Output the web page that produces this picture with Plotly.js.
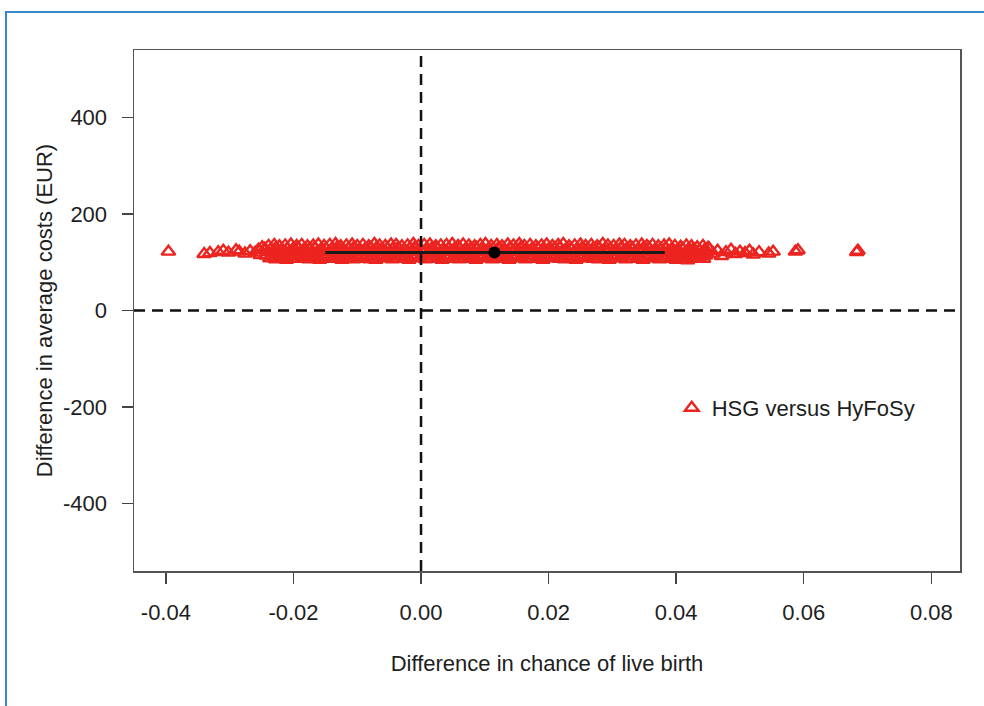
<!DOCTYPE html>
<html>
<head>
<meta charset="utf-8">
<script src="https://cdn.plot.ly/plotly-3.0.1.min.js"></script>
<style>
  html, body { margin: 0; padding: 0; background: #ffffff; }
  #wrap { position: relative; width: 984px; height: 706px; overflow: hidden; }
  #frame { position: absolute; left: 5px; top: 11px; width: 1200px; height: 900px;
           border-left: 2px solid #3b86c6; border-top: 2px solid #3b86c6; }
  #chart { position: absolute; left: 0; top: 0; width: 984px; height: 706px; }
</style>
</head>
<body>
<div id="wrap">
  <div id="frame"></div>
  <div id="chart"></div>
</div>
<script>
// ---- Data ----
// Replicates: difference in chance of live birth (x) vs difference in average costs (y)
const rowTopX = [-0.0239,-0.0230,-0.0222,-0.0213,-0.0204,-0.0195,-0.0187,-0.0178,-0.0169,-0.0161,
  -0.0152,-0.0143,-0.0134,-0.0126,-0.0117,-0.0108,-0.0100,-0.0091,-0.0082,-0.0073,
  -0.0065,-0.0056,-0.0047,-0.0039,-0.0030,-0.0021,-0.0012,-0.0004,0.0005,0.0014,
  0.0023,0.0031,0.0040,0.0049,0.0058,0.0066,0.0075,0.0084,0.0093,0.0101,
  0.0110,0.0119,0.0127,0.0136,0.0145,0.0154,0.0162,0.0171,0.0180,0.0189,
  0.0197,0.0206,0.0215,0.0223,0.0232,0.0241,0.0250,0.0258,0.0267,0.0276,
  0.0285,0.0293,0.0302,0.0311,0.0319,0.0328,0.0337,0.0346,0.0354,0.0363,
  0.0372,0.0381,0.0389,0.0398,0.0407,0.0416,0.0424,0.0433,0.0442,0.0450];
const rowTopY = [134,136,133,135,137,134,136,133,135,137,
  134,136,138,133,135,137,134,136,133,138,
  135,134,137,136,133,135,138,134,136,137,
  133,135,136,138,134,137,135,133,136,138,
  134,136,133,137,135,138,134,136,133,135,
  137,134,136,138,133,135,137,134,136,133,
  138,135,134,137,136,133,135,137,134,136,
  133,135,137,134,132,135,133,131,134,130];
const rowUpperX = [-0.0245,-0.0236,-0.0228,-0.0219,-0.0210,-0.0201,-0.0193,-0.0184,-0.0175,-0.0167,
  -0.0158,-0.0149,-0.0140,-0.0132,-0.0123,-0.0114,-0.0106,-0.0097,-0.0088,-0.0079,
  -0.0071,-0.0062,-0.0053,-0.0045,-0.0036,-0.0027,-0.0018,-0.0010,-0.0001,0.0008,
  0.0017,0.0025,0.0034,0.0043,0.0052,0.0060,0.0069,0.0078,0.0087,0.0095,
  0.0104,0.0113,0.0121,0.0130,0.0139,0.0148,0.0156,0.0165,0.0174,0.0183,
  0.0191,0.0200,0.0209,0.0217,0.0226,0.0235,0.0244,0.0252,0.0261,0.0270,
  0.0279,0.0287,0.0296,0.0305,0.0313,0.0322,0.0331,0.0340,0.0348,0.0357,
  0.0366,0.0375,0.0383,0.0392,0.0401,0.0410,0.0418,0.0427,0.0436,0.0444];
const rowUpperY = [128,126,129,125,128,127,130,126,128,129,
  125,128,127,130,126,128,129,125,127,130,
  128,126,129,127,130,125,128,130,127,126,
  129,130,125,128,127,129,126,129,130,127,
  125,128,129,126,129,127,130,125,128,129,
  126,127,129,130,125,128,126,129,127,129,
  130,126,128,125,129,127,129,126,128,130,
  125,127,129,126,124,128,125,127,124,125];
const rowMiddleX = [-0.0241,-0.0232,-0.0224,-0.0215,-0.0206,-0.0197,-0.0189,-0.0180,-0.0171,-0.0163,
  -0.0154,-0.0145,-0.0136,-0.0128,-0.0119,-0.0110,-0.0102,-0.0093,-0.0084,-0.0075,
  -0.0067,-0.0058,-0.0049,-0.0041,-0.0032,-0.0023,-0.0014,-0.0006,0.0003,0.0012,
  0.0021,0.0029,0.0038,0.0047,0.0056,0.0064,0.0073,0.0082,0.0091,0.0099,
  0.0108,0.0117,0.0125,0.0134,0.0143,0.0152,0.0160,0.0169,0.0178,0.0187,
  0.0195,0.0204,0.0213,0.0221,0.0230,0.0239,0.0248,0.0256,0.0265,0.0274,
  0.0283,0.0291,0.0300,0.0309,0.0317,0.0326,0.0335,0.0344,0.0352,0.0361,
  0.0370,0.0379,0.0387,0.0396,0.0405,0.0414,0.0422,0.0431,0.0440,0.0448];
const rowMiddleY = [121,119,122,118,121,120,122,119,121,118,
  122,120,122,119,121,118,121,122,120,119,
  121,122,118,120,121,119,122,121,118,120,
  122,119,121,122,118,120,122,119,121,122,
  118,121,120,119,121,122,118,120,121,119,
  121,122,120,118,121,119,121,122,120,118,
  121,119,121,122,118,120,121,119,121,122,
  118,120,121,119,121,117,120,121,118,121];
const rowLowerX = [-0.0243,-0.0234,-0.0226,-0.0217,-0.0208,-0.0199,-0.0191,-0.0182,-0.0173,-0.0165,
  -0.0156,-0.0147,-0.0138,-0.0130,-0.0121,-0.0112,-0.0104,-0.0095,-0.0086,-0.0077,
  -0.0069,-0.0060,-0.0051,-0.0043,-0.0034,-0.0025,-0.0016,-0.0008,0.0001,0.0010,
  0.0019,0.0027,0.0036,0.0045,0.0054,0.0062,0.0071,0.0080,0.0089,0.0097,
  0.0106,0.0115,0.0123,0.0132,0.0141,0.0150,0.0158,0.0167,0.0176,0.0185,
  0.0193,0.0202,0.0211,0.0219,0.0228,0.0237,0.0246,0.0254,0.0263,0.0272,
  0.0281,0.0289,0.0298,0.0307,0.0315,0.0324,0.0333,0.0342,0.0350,0.0359,
  0.0368,0.0377,0.0385,0.0394,0.0403,0.0412,0.0420,0.0429,0.0438,0.0446];
const rowLowerY = [114,112,115,111,114,113,115,112,114,111,
  115,113,115,111,114,112,114,115,113,111,
  114,115,112,113,114,111,115,114,112,113,
  115,111,114,114,112,113,115,111,114,115,
  112,114,113,111,114,115,112,113,114,111,
  114,115,113,112,114,111,114,115,113,112,
  114,111,114,115,112,113,114,111,114,115,
  112,113,114,111,114,110,113,114,112,114];
const rowBottomX = [-0.0237,-0.0228,-0.0220,-0.0211,-0.0202,-0.0193,-0.0185,-0.0176,-0.0167,-0.0159,
  -0.0150,-0.0141,-0.0132,-0.0124,-0.0115,-0.0106,-0.0098,-0.0089,-0.0080,-0.0071,
  -0.0063,-0.0054,-0.0045,-0.0037,-0.0028,-0.0019,-0.0010,-0.0002,0.0007,0.0016,
  0.0025,0.0033,0.0042,0.0051,0.0060,0.0068,0.0077,0.0086,0.0095,0.0103,
  0.0112,0.0121,0.0129,0.0138,0.0147,0.0156,0.0164,0.0173,0.0182,0.0191,
  0.0199,0.0208,0.0217,0.0225,0.0234,0.0243,0.0252,0.0260,0.0269,0.0278,
  0.0287,0.0295,0.0304,0.0313,0.0321,0.0330,0.0339,0.0348,0.0356,0.0365,
  0.0374,0.0383,0.0391,0.0400,0.0409,0.0418,0.0426,0.0435,0.0443];
const rowBottomY = [108,106,109,105,108,107,109,106,108,105,
  109,107,108,105,108,106,109,107,106,105,
  108,109,106,107,108,105,109,108,106,107,
  109,105,108,107,106,107,109,105,108,109,
  106,108,107,105,108,109,106,107,108,105,
  108,109,107,106,108,105,108,109,107,106,
  108,105,108,109,106,107,108,105,108,109,
  106,107,108,105,108,104,107,108,107];
const tailLeftX = [-0.0396,-0.0340,-0.0331,-0.0318,-0.0310,-0.0302,-0.0290,-0.0285,-0.0276,-0.0268,-0.0260,-0.0255,-0.0252,-0.0249];
const tailLeftY = [122,117,119,121,124,120,125,122,118,123,120,126,115,131];
const tailRightX = [0.0452,0.0458,0.0465,0.0471,0.0478,0.0486,0.0493,0.0500,0.0508,0.0515,0.0521,0.0530,0.0545,0.0552,0.0587,0.0591,0.0683,0.0685];
const tailRightY = [128,118,124,113,121,126,117,122,119,124,116,121,118,122,122,125,121,124];

// Mean and interval of difference in chance of live birth
const meanEffect = 0.0115;
const meanCost = 120;
const ciEffect = [-0.0150, 0.0382];

const xTickVals = [-0.04, -0.02, 0.00, 0.02, 0.04, 0.06, 0.08];
const xTickText = ["-0.04", "-0.02", "0.00", "0.02", "0.04", "0.06", "0.08"];
const yTickVals = [-400, -200, 0, 200, 400];
const yTickText = ["-400", "-200", "0", "200", "400"];

const seriesName = "HSG versus HyFoSy";
const xTitle = "Difference in chance of live birth";
const yTitle = "Difference in average costs (EUR)";

// ---- Build traces ----
const simX = [].concat(tailLeftX, rowTopX, rowUpperX, rowMiddleX, rowLowerX, rowBottomX, tailRightX);
const simY = [].concat(tailLeftY, rowTopY, rowUpperY, rowMiddleY, rowLowerY, rowBottomY, tailRightY);

const red = "rgb(236,36,32)";
const FONT = "Liberation Sans, Arial, Helvetica, sans-serif";
const TXT = "#1e1e1e";

const traces = [
  {
    type: "scatter", mode: "markers", name: seriesName,
    x: simX, y: simY,
    marker: { symbol: "triangle-up-open", size: 12, color: red, line: { width: 2.4, color: red } },
    showlegend: true, hoverinfo: "skip"
  },
  {
    type: "scatter", mode: "lines",
    x: ciEffect, y: [meanCost, meanCost],
    line: { color: "#1a1a1a", width: 3 },
    showlegend: false, hoverinfo: "skip"
  },
  {
    type: "scatter", mode: "markers",
    x: [meanEffect], y: [meanCost],
    marker: { symbol: "circle", size: 12, color: "#000000" },
    showlegend: false, hoverinfo: "skip"
  }
];

const layout = {
  width: 984, height: 706,
  paper_bgcolor: "rgba(0,0,0,0)", plot_bgcolor: "rgba(0,0,0,0)",
  margin: { l: 134, r: 24, t: 50, b: 135 },
  font: { family: FONT, size: 22, color: TXT },
  showlegend: true,
  legend: {
    x: 0.651, y: 0.313, xanchor: "left", yanchor: "middle",
    bgcolor: "rgba(0,0,0,0)", borderwidth: 0,
    font: { family: FONT, size: 22, color: TXT }
  },
  xaxis: {
    range: [-0.045, 0.0845], tickmode: "array", tickvals: xTickVals, ticktext: xTickText,
    ticks: "outside", ticklen: 11, tickwidth: 1.5, tickcolor: "#444",
    showline: true, mirror: true, linecolor: "#555", linewidth: 1.5,
    showgrid: false, zeroline: false, ticklabelstandoff: 10,
    tickfont: { family: FONT, size: 22, color: TXT },
    title: { text: xTitle, font: { family: FONT, size: 22, color: TXT }, standoff: 31 }
  },
  yaxis: {
    range: [-540, 540], tickmode: "array", tickvals: yTickVals, ticktext: yTickText,
    ticks: "outside", ticklen: 11, tickwidth: 1.5, tickcolor: "#444",
    showline: true, mirror: true, linecolor: "#555", linewidth: 1.5,
    showgrid: false, zeroline: false, ticklabelstandoff: 10,
    tickfont: { family: FONT, size: 22, color: TXT },
    title: { text: yTitle, font: { family: FONT, size: 22, color: TXT }, standoff: 4 }
  },
  shapes: [
    { type: "line", xref: "x", yref: "paper", x0: 0, x1: 0, y0: 0, y1: 1,
      line: { color: "#111", width: 2.5, dash: "11px,7px" } },
    { type: "line", xref: "paper", yref: "y", x0: 0, x1: 1, y0: 0, y1: 0,
      line: { color: "#111", width: 2.5, dash: "11px,7px" } }
  ]
};

Plotly.newPlot("chart", traces, layout, { displayModeBar: false, staticPlot: true });
</script>
</body>
</html>
